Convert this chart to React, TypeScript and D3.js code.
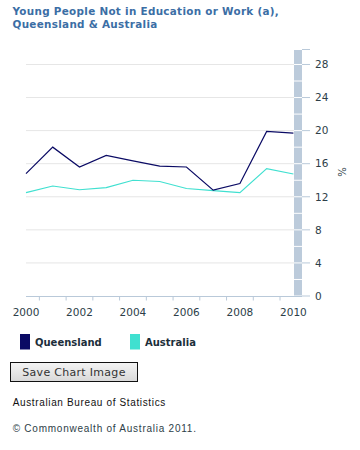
import React from "react";
import * as d3 from "d3";

const years = [2000, 2001, 2002, 2003, 2004, 2005, 2006, 2007, 2008, 2009, 2010];
const queensland = [14.8, 18.0, 15.6, 17.0, 16.35, 15.7, 15.6, 12.8, 13.6, 19.9, 19.7];
const australia = [12.5, 13.3, 12.85, 13.1, 14.0, 13.85, 13.0, 12.75, 12.5, 15.4, 14.75];
const yTicks = [0, 4, 8, 12, 16, 20, 24, 28];
const xTickLabels = [2000, 2002, 2004, 2006, 2008, 2010];
const titleLines = ["Young People Not in Education or Work (a),", "Queensland & Australia"];
const seriesNames = ["Queensland", "Australia"];
const seriesColors = ["#0a0a64", "#40e0d0"];

const FONT = "'DejaVu Sans', Verdana, sans-serif";

export default function App() {
  const x = d3.scaleLinear().domain([2000, 2010]).range([26, 293.4]);
  const yMax = 29.75;
  const y = d3.scaleLinear().domain([0, yMax]).range([296, 50]);
  const plotLeft = 26;
  const plotRight = 294;
  const barLeft = 294;
  const barRight = 302;

  const line = d3
    .line<number>()
    .x((_, i) => x(years[i]))
    .y((d) => y(d));

  const minorTicks = d3.range(2000.5, 2010, 1);
  const segBounds = d3.range(0, yMax, 2).concat([yMax]);

  return (
    <div style={{ position: "absolute", left: 0, top: 0 }}>
      <svg width={360} height={450} style={{ display: "block", background: "#fff" }}>
        {titleLines.map((t, i) => (
          <text
            key={i}
            x={12.5}
            y={15 + i * 13.3}
            fontFamily={FONT}
            fontWeight="bold"
            fontSize={10.4}
            letterSpacing={0.3}
            fill="#3b6ea5"
          >
            {t}
          </text>
        ))}

        {/* grid lines */}
        {yTicks.filter((t) => t > 0).map((t) => (
          <line key={t} x1={plotLeft} x2={plotRight} y1={y(t)} y2={y(t)} stroke="#e6e6e6" strokeWidth={1} />
        ))}

        {/* right bar segments */}
        {segBounds.slice(0, -1).map((v, i) => {
          const top = y(segBounds[i + 1]);
          const bot = y(v);
          return (
            <rect
              key={v}
              x={barLeft}
              width={barRight - barLeft}
              y={top + (i === segBounds.length - 2 ? 0 : 0.5)}
              height={bot - top - (i === segBounds.length - 2 ? 0 : 0.5) - 0.5}
              fill="#bccbdb"
            />
          );
        })}

        {/* right axis ticks */}
        {yTicks.map((t) => (
          <g key={t}>
            <line x1={barRight} x2={310} y1={y(t)} y2={y(t)} stroke="#b9c9d9" strokeWidth={1} />
            <text
              x={315}
              y={y(t)}
              dy="0.36em"
              fontFamily={FONT}
              fontSize={10.5}
              fill="#2d3e48"
            >
              {t}
            </text>
          </g>
        ))}
        <line x1={barRight} x2={310} y1={y(yMax) - 0.5} y2={y(yMax) - 0.5} stroke="#b9c9d9" strokeWidth={1} />

        <text
          transform={`translate(338,172) rotate(90)`}
          textAnchor="middle"
          fontFamily={FONT}
          fontSize={10}
          fill="#2d3e48"
        >
          %
        </text>

        {/* x axis */}
        <line x1={plotLeft} x2={barRight} y1={296.5} y2={296.5} stroke="#b9c9d9" strokeWidth={1} />
        {minorTicks.map((t) => (
          <line key={t} x1={x(t)} x2={x(t)} y1={296.5} y2={300.5} stroke="#b9c9d9" strokeWidth={1} />
        ))}
        {xTickLabels.map((t) => (
          <text
            key={t}
            x={x(t)}
            y={316}
            textAnchor="middle"
            fontFamily={FONT}
            fontSize={10.5}
            fill="#2d3e48"
          >
            {t}
          </text>
        ))}

        {/* lines */}
        <path d={line(australia) || ""} fill="none" stroke={seriesColors[1]} strokeWidth={1.2} />
        <path d={line(queensland) || ""} fill="none" stroke={seriesColors[0]} strokeWidth={1.2} />

        {/* legend */}
        {seriesNames.map((n, i) => (
          <g key={n} transform={`translate(${20 + i * 110},334)`}>
            <rect x={0} y={0} width={10} height={15.5} fill={seriesColors[i]} />
            <text x={15} y={11.5} fontFamily={FONT} fontWeight="bold" fontSize={10} fill="#1c2e3a">
              {n}
            </text>
          </g>
        ))}

        {/* button */}
        <defs>
          <linearGradient id="btnGrad" x1="0" y1="0" x2="0" y2="1">
            <stop offset="0" stopColor="#f4f4f4" />
            <stop offset="1" stopColor="#d8d8d8" />
          </linearGradient>
        </defs>
        <rect x={10.5} y={362.5} width={127} height={19} fill="url(#btnGrad)" stroke="#111" strokeWidth={1} />
        <text
          x={74}
          y={376}
          textAnchor="middle"
          fontFamily={FONT}
          fontSize={11}
          letterSpacing={0.3}
          fill="#333"
        >
          Save Chart Image
        </text>

        <text x={12.7} y={406} fontFamily="'Liberation Sans', Arial, sans-serif" fontSize={10} letterSpacing={0.64} fill="#111">
          Australian Bureau of Statistics
        </text>
        <text x={12.7} y={432} fontFamily="'Liberation Sans', Arial, sans-serif" fontSize={10} letterSpacing={0.76} fill="#2d3e48">
          © Commonwealth of Australia 2011.
        </text>
      </svg>
    </div>
  );
}
